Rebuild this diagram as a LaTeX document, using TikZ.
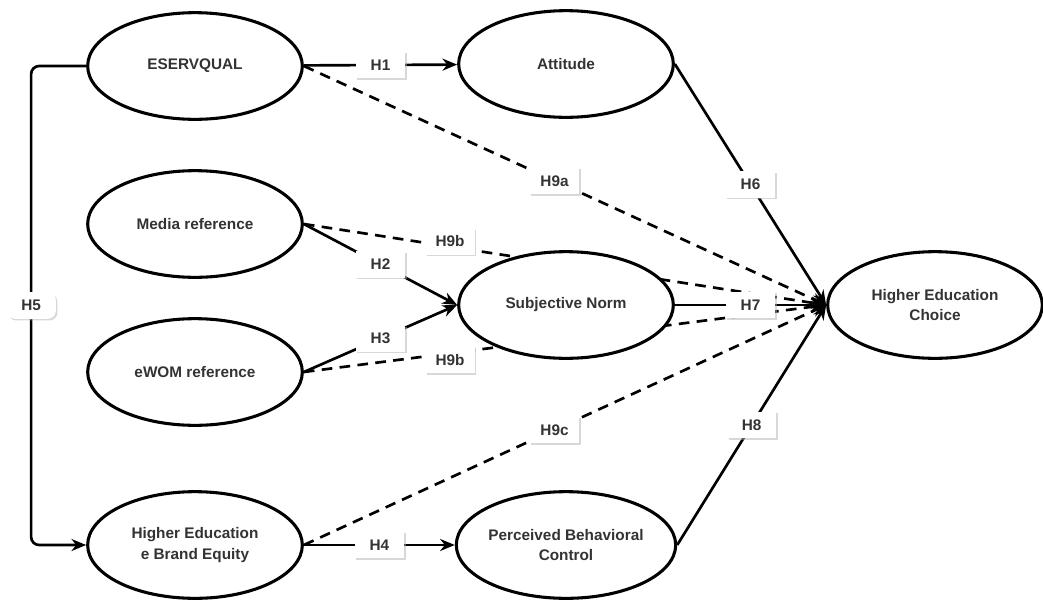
\documentclass[tikz,border=0pt]{standalone}
\usepackage{fontspec}
\setmainfont{Liberation Sans}
\usetikzlibrary{arrows.meta, positioning, shapes.geometric, shadows, backgrounds}
\definecolor{txt}{HTML}{333333}

\begin{document}
\begin{tikzpicture}[x=0.75pt, y=-0.75pt,
    construct/.style={draw, ellipse, line width=2.3pt, fill=white, minimum width=161pt, minimum height=80pt, inner sep=0pt, font=\fontsize{11.5}{15.5}\selectfont\bfseries, text=txt, align=center},
    hyp/.style={fill=white, minimum width=37pt, minimum height=20pt, inner sep=1pt, font=\fontsize{11.5}{13}\selectfont\bfseries, text=txt, drop shadow={shadow xshift=1.2pt, shadow yshift=-1.2pt, fill=black!30, opacity=0.5}},
    arr/.style={-{Stealth[length=11pt, width=9pt]}, line width=2pt},
    dasharr/.style={arr, dash pattern=on 8pt off 5.5pt},
]
\useasboundingbox (0,0) rectangle (1043,604);

% --- Constructs ---
\node[construct] (eserv) at (195,66) {ESERVQUAL};
\node[construct] (att) at (566,64) {Attitude};
\node[construct] (media) at (195,224) {Media reference};
\node[construct] (ewom) at (195,372) {eWOM reference};
\node[construct] (subj) at (566,305) {Subjective Norm};
\node[construct] (hec) at (935,305) {Higher Education\\Choice};
\node[construct] (brand) at (195,545) {Higher Education\\e Brand Equity};
\node[construct] (pbc) at (566,545) {Perceived Behavioral\\Control};

% --- Hypotheses ---
\begin{scope}[on background layer]
\draw[arr] (eserv) -- node[hyp]{H1} (att);
\draw[dasharr] (eserv.east) -- node[hyp, pos=0.48]{H9a} (hec.west);
\draw[arr] (att.east) -- node[hyp]{H6} (hec.west);
\draw[arr] (media.east) -- node[hyp]{H2} (subj.west);
\draw[dasharr] (media.east) -- node[hyp, pos=0.28, yshift=4pt]{H9b} (hec.west);
\draw[arr] (ewom.east) -- node[hyp]{H3} (subj.west);
\draw[dasharr] (ewom.east) -- node[hyp, pos=0.28, yshift=-5pt]{H9b} (hec.west);
\draw[arr] (subj) -- node[hyp]{H7} (hec);
\draw[arr] (brand) -- node[hyp]{H4} (pbc);
\draw[dasharr] (brand.east) -- node[hyp, pos=0.48]{H9c} (hec.west);
\draw[arr] (pbc.east) -- node[hyp]{H8} (hec.west);
\draw[arr, rounded corners=6pt] (eserv.west) -- ++(-55,0) |- node[hyp, pos=0.25]{H5} (brand.west);
\end{scope}

\end{tikzpicture}
\end{document}
